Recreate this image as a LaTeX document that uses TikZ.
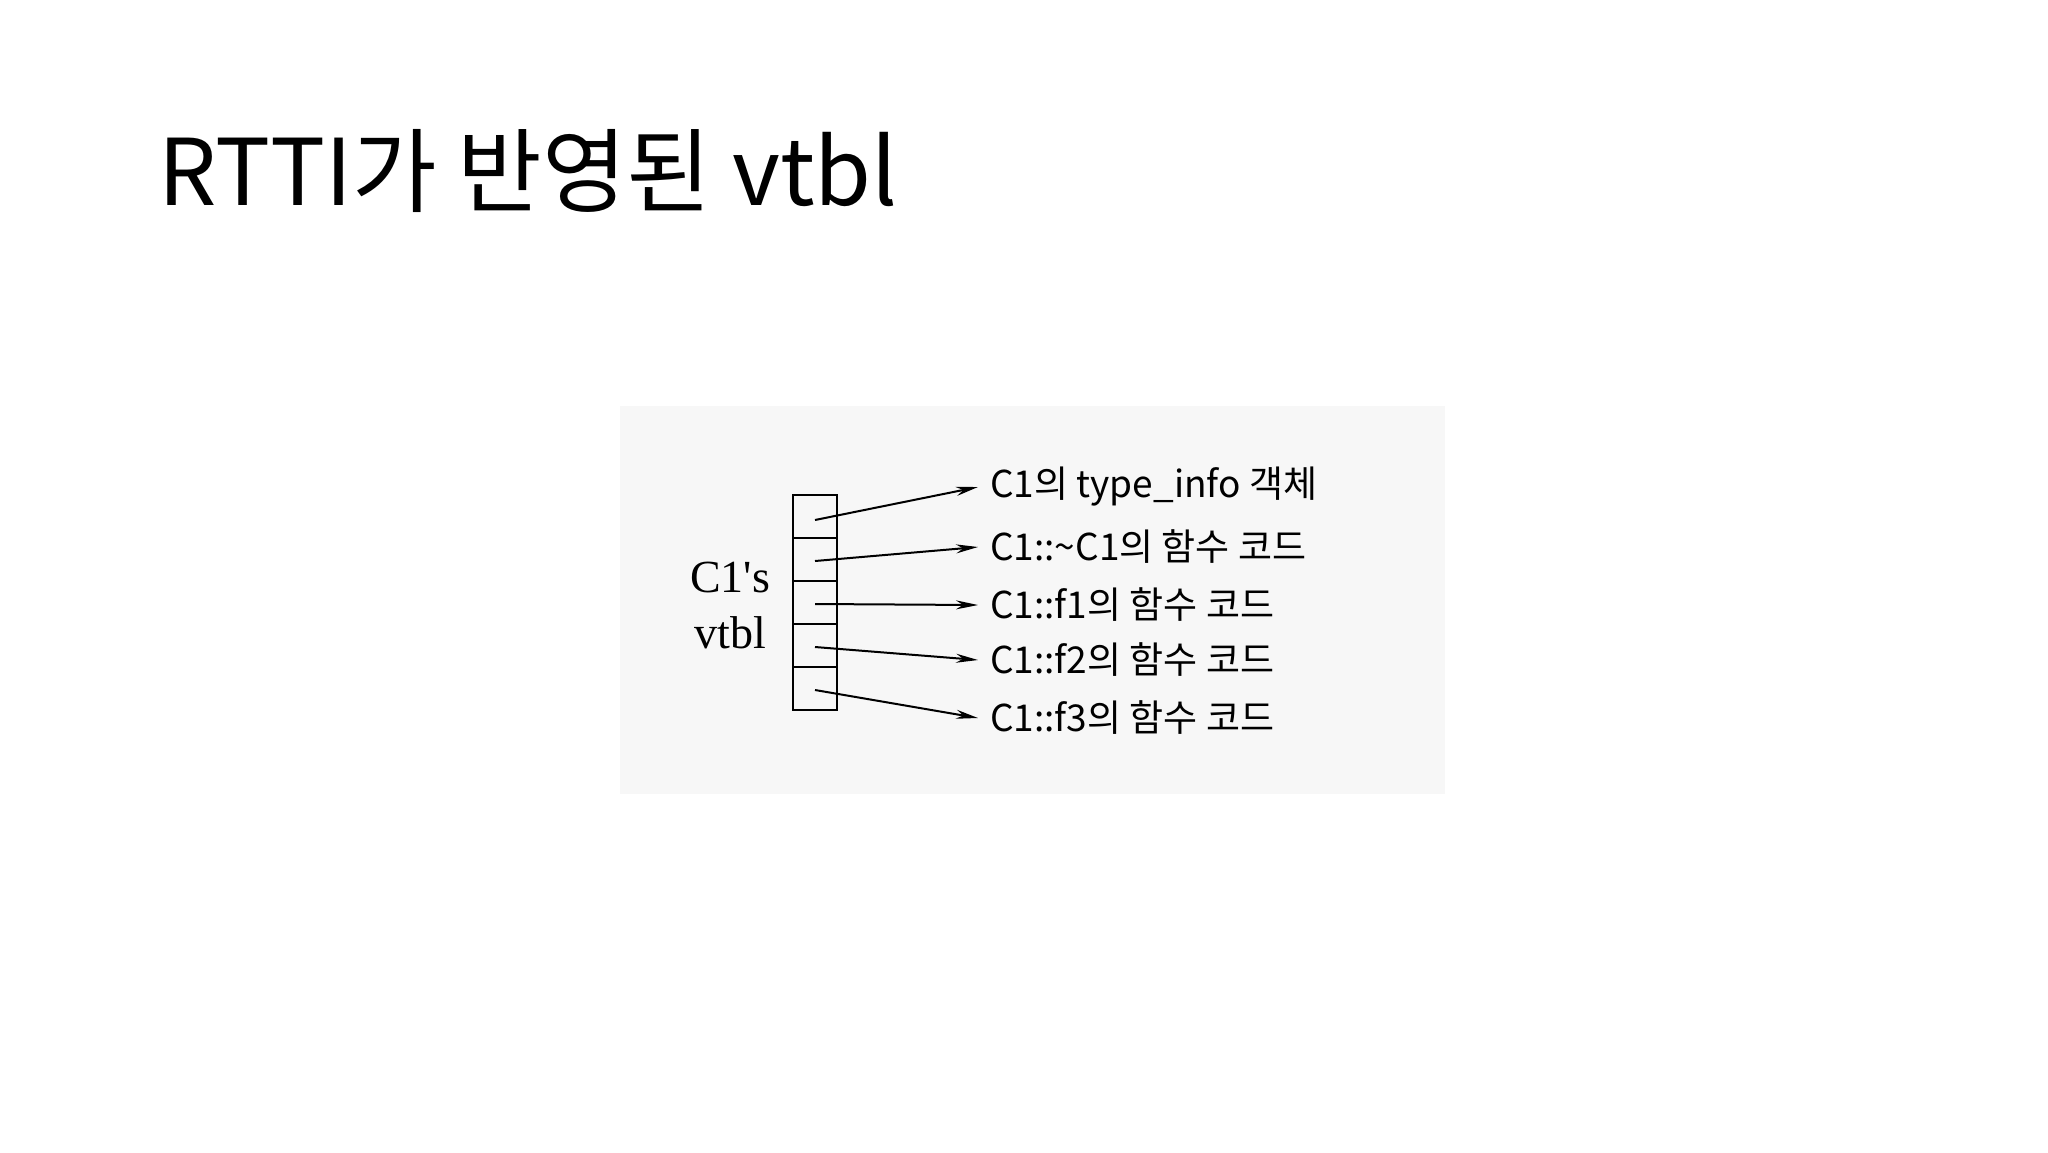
\documentclass[tikz,border=0pt]{standalone}
\usepackage{fontspec}
\setmainfont{Noto Sans CJK KR}
\newfontfamily\serifx{Liberation Serif}
\usetikzlibrary{arrows.meta}
\begin{document}
\begin{tikzpicture}[x=1pt,y=-1pt,
  lbl/.style={anchor=west,inner sep=0pt,font=\fontsize{37}{40}\selectfont},
  arr/.style={line width=2pt,-{Stealth[length=22pt,width=9pt]}}]
\useasboundingbox[fill=white] (0,0) rectangle (2048,1152);
\fill[black!3] (620,406) rectangle (1445,794);
\node[anchor=base west,inner sep=0pt,font=\fontsize{92}{100}\selectfont] (title) at (158,205) {RTTI가 반영된 vtbl};
\node[draw,line width=2pt,minimum width=44pt,minimum height=215pt,inner sep=0pt] (box) at (815,602.5) {};
\foreach \i in {1,...,4} \draw[line width=2pt] (793,495+43*\i) -- (837,495+43*\i);
\node[align=center,font=\serifx\fontsize{46}{56}\selectfont,inner sep=0pt] (name) at (730,605) {C1's\\vtbl};
\coordinate (s1) at (815,520); \coordinate (s2) at (815,561); \coordinate (s3) at (815,604);
\coordinate (s4) at (815,647); \coordinate (s5) at (815,690);
\node[lbl] (t1) at (990,487) {C1의 type\_info 객체};
\node[lbl] (t2) at (990,547) {C1::\textasciitilde C1의 함수 코드};
\node[lbl] (t3) at (990,605) {C1::f1의 함수 코드};
\node[lbl] (t4) at (990,660) {C1::f2의 함수 코드};
\node[lbl] (t5) at (990,718) {C1::f3의 함수 코드};
\foreach \i in {1,...,5} \draw[arr] (s\i) -- ([xshift=-12pt]t\i.west);
\end{tikzpicture}
\end{document}
